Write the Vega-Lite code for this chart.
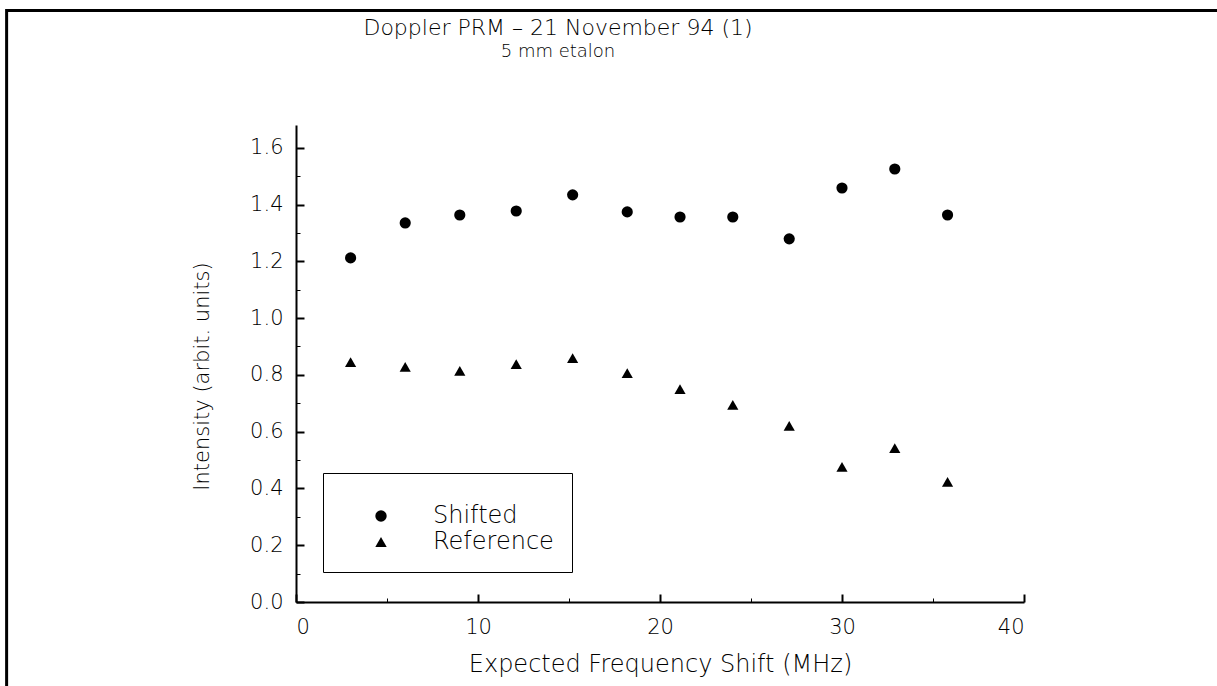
{
  "$schema": "https://vega.github.io/schema/vega-lite/v6.json",
  "width": 728,
  "height": 477,
  "autosize": {"type": "none"},
  "padding": {"left": 296, "top": 125, "right": 193, "bottom": 84},
  "background": "white",
  "config": {
    "font": "DejaVu Sans",
    "view": {"stroke": null},
    "axis": {"grid": false, "labelColor": "black", "titleColor": "black", "tickColor": "black", "domainColor": "black", "labelFontWeight": 300, "titleFontWeight": 300}
  },
  "title": {
    "text": "Doppler PRM – 21 November 94 (1)",
    "subtitle": "5 mm etalon",
    "fontSize": 22,
    "subtitleFontSize": 18,
    "fontWeight": 300,
    "subtitleFontWeight": 300,
    "color": "black",
    "subtitleColor": "black",
    "anchor": "middle",
    "frame": "group",
    "offset": -53,
    "dx": -102,
    "subtitlePadding": 3
  },
  "datasets": {
    "pts": [
      {"shift": 3.0, "intensity": 1.212, "series": "Shifted"},
      {"shift": 6.0, "intensity": 1.335, "series": "Shifted"},
      {"shift": 9.0, "intensity": 1.363, "series": "Shifted"},
      {"shift": 12.1, "intensity": 1.377, "series": "Shifted"},
      {"shift": 15.2, "intensity": 1.434, "series": "Shifted"},
      {"shift": 18.2, "intensity": 1.374, "series": "Shifted"},
      {"shift": 21.1, "intensity": 1.356, "series": "Shifted"},
      {"shift": 24.0, "intensity": 1.356, "series": "Shifted"},
      {"shift": 27.1, "intensity": 1.279, "series": "Shifted"},
      {"shift": 30.0, "intensity": 1.458, "series": "Shifted"},
      {"shift": 32.9, "intensity": 1.525, "series": "Shifted"},
      {"shift": 35.8, "intensity": 1.363, "series": "Shifted"},
      {"shift": 3.0, "intensity": 0.845, "series": "Reference"},
      {"shift": 6.0, "intensity": 0.828, "series": "Reference"},
      {"shift": 9.0, "intensity": 0.814, "series": "Reference"},
      {"shift": 12.1, "intensity": 0.838, "series": "Reference"},
      {"shift": 15.2, "intensity": 0.859, "series": "Reference"},
      {"shift": 18.2, "intensity": 0.806, "series": "Reference"},
      {"shift": 21.1, "intensity": 0.75, "series": "Reference"},
      {"shift": 24.0, "intensity": 0.694, "series": "Reference"},
      {"shift": 27.1, "intensity": 0.62, "series": "Reference"},
      {"shift": 30.0, "intensity": 0.476, "series": "Reference"},
      {"shift": 32.9, "intensity": 0.542, "series": "Reference"},
      {"shift": 35.8, "intensity": 0.423, "series": "Reference"}
    ]
  },
  "layer": [
    {
      "data": {"name": "pts"},
      "mark": {"type": "point", "filled": true, "opacity": 1, "color": "black", "clip": false},
      "encoding": {
        "x": {
          "field": "shift", "type": "quantitative",
          "scale": {"domain": [0, 40], "nice": false, "zero": true},
          "axis": {"orient": "bottom", "values": [0, 10, 20, 30, 40], "ticks": false, "domainWidth": 2, "labelFontSize": 21, "labelPadding": 14, "title": "Expected Frequency Shift (MHz)", "titleFontSize": 24, "titlePadding": 15}
        },
        "y": {
          "field": "intensity", "type": "quantitative",
          "scale": {"domain": [0, 1.68], "nice": false, "zero": true},
          "axis": {"orient": "left", "values": [0, 0.2, 0.4, 0.6, 0.8, 1.0, 1.2, 1.4, 1.6], "format": ".1f", "ticks": false, "domainWidth": 2, "labelFontSize": 21, "labelPadding": 13, "title": "Intensity (arbit. units)", "titleFontSize": 21, "titleX": -84, "titleY": 251}
        },
        "shape": {
          "field": "series", "type": "nominal",
          "scale": {"domain": ["Shifted", "Reference"], "range": ["circle", "triangle-up"]},
          "legend": {
            "title": " ", "titleFontSize": 8, "titlePadding": 5,
            "orient": "none", "legendX": 27, "legendY": 348,
            "strokeColor": "black", "fillColor": "white",
            "padding": 18, "labelFontSize": 24, "labelColor": "black", "labelFontWeight": 300,
            "symbolFillColor": "black", "symbolStrokeColor": "black", "symbolSize": 130,
            "symbolOffset": 28, "labelOffset": 40, "rowPadding": 2
          }
        },
        "size": {"value": 125}
      }
    },
    {
      "data": {"name": "pts"},
      "mark": {"type": "point", "opacity": 0},
      "encoding": {
        "x": {"field": "shift", "type": "quantitative", "axis": {"orient": "bottom", "values": [0, 10, 20, 30, 40], "tickSize": 8, "tickWidth": 2, "offset": -8, "domain": false, "labels": false, "title": null}},
        "y": {"field": "intensity", "type": "quantitative", "axis": {"orient": "left", "values": [0, 0.2, 0.4, 0.6, 0.8, 1.0, 1.2, 1.4, 1.6], "tickSize": 8, "tickWidth": 2, "offset": -8, "domain": false, "labels": false, "title": null}}
      }
    },
    {
      "data": {"name": "pts"},
      "mark": {"type": "point", "opacity": 0},
      "encoding": {
        "x": {"field": "shift", "type": "quantitative", "axis": {"orient": "bottom", "values": [5, 15, 25, 35], "tickSize": 4, "tickWidth": 1, "offset": -4, "domain": false, "labels": false, "title": null}},
        "y": {"field": "intensity", "type": "quantitative", "axis": {"orient": "left", "values": [0.1, 0.3, 0.5, 0.7, 0.9, 1.1, 1.3, 1.5], "tickSize": 4, "tickWidth": 1, "offset": -4, "domain": false, "labels": false, "title": null}}
      }
    },
    {
      "data": {"values": [{}]},
      "mark": {"type": "rect", "filled": false, "stroke": "black", "strokeWidth": 3, "clip": false},
      "encoding": {
        "x": {"datum": -15.9, "type": "quantitative", "axis": null},
        "x2": {"datum": 60},
        "y": {"datum": 2.083, "type": "quantitative", "axis": null},
        "y2": {"datum": -1}
      }
    }
  ],
  "resolve": {"axis": {"x": "independent", "y": "independent"}}
}
